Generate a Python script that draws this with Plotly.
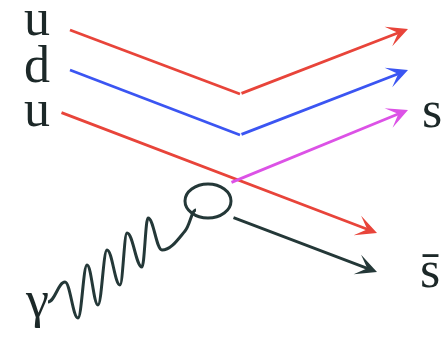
import math
import plotly.graph_objects as go

W, H = 442, 337

# quark lines: polyline vertices, the last segment ends in an arrow
red = "#e8443a"
blue = "#3b55f2"
magenta = "#dc52e6"
dark = "#243838"

uu_top_x = [70, 240, 408]
uu_top_y = [30, 94, 29]
dd_x = [70, 240, 408]
dd_y = [70, 135, 70]
u_low_x = [60, 377]
u_low_y = [112, 233]
s_x = [230, 408]
s_y = [183, 110]
sbar_x = [232, 377]
sbar_y = [217, 272]

# photon: wave vertices (start, alternating crests/troughs, then into the loop)
photon_x = [48, 65, 78, 87, 98, 107, 120, 127, 142, 148, 162, 185, 196]
photon_y = [302, 282, 318, 265, 305, 250, 285, 233, 267, 218, 250, 231, 210]

# quark-loop ellipse bounds
loop_x = [185, 231]
loop_y = [184, 218]

left_labels = ["u", "d", "u"]
left_label_x = [36.5, 36.5, 36.5]
left_label_y = [17.5, 64.5, 108.5]
right_labels = ["s", "s̄"]
right_label_x = [432, 430]
right_label_y = [109.5, 269.5]
photon_label = "γ"
photon_label_pos = (36.5, 299.5)


def wave_path(xs, ys, crest_ctrl=0.4):
    """SVG cubic path through the vertices; crests and troughs get level tangents."""
    pts = list(zip(xs, ys))
    n = len(pts)
    tangents = []
    for i in range(n):
        if 0 < i < n - 1:
            a, b, c = ys[i - 1], ys[i], ys[i + 1]
            extremum = (b - a) * (c - b) < 0
        else:
            extremum = True
        if extremum:
            tangents.append((1.0, 0.0, True))
        else:
            dx, dy = xs[i + 1] - xs[i - 1], ys[i + 1] - ys[i - 1]
            ln = math.hypot(dx, dy)
            tangents.append((dx / ln, dy / ln, False))
    d = f"M{pts[0][0]},{pts[0][1]}"
    for i in range(n - 1):
        p0, p1 = pts[i], pts[i + 1]
        seg_dx = p1[0] - p0[0]
        seg_len = math.hypot(seg_dx, p1[1] - p0[1])
        t0, t1 = tangents[i], tangents[i + 1]
        s0 = crest_ctrl * seg_dx if t0[2] else seg_len / 3
        s1 = crest_ctrl * seg_dx if t1[2] else seg_len / 3
        c0 = (p0[0] + t0[0] * s0, p0[1] + t0[1] * s0)
        c1 = (p1[0] - t1[0] * s1, p1[1] - t1[1] * s1)
        d += f" C{c0[0]:.2f},{c0[1]:.2f} {c1[0]:.2f},{c1[1]:.2f} {p1[0]},{p1[1]}"
    return d


fig = go.Figure()

lines = [
    (uu_top_x, uu_top_y, red),
    (dd_x, dd_y, blue),
    (u_low_x, u_low_y, red),
    (s_x, s_y, magenta),
    (sbar_x, sbar_y, dark),
]

annotations = []
for xs, ys, col in lines:
    if len(xs) > 2:
        fig.add_trace(go.Scatter(x=xs[:-1], y=ys[:-1], mode="lines",
                                 line=dict(color=col, width=2.8),
                                 hoverinfo="skip", showlegend=False))
    annotations.append(dict(
        x=xs[-1], y=ys[-1], ax=xs[-2], ay=ys[-2],
        xref="x", yref="y", axref="x", ayref="y",
        showarrow=True, arrowhead=3, arrowsize=1.25, arrowwidth=2.8,
        arrowcolor=col, standoff=0, startstandoff=0, text=""))

fig.add_shape(type="path", xref="x", yref="y",
              path=wave_path(photon_x, photon_y),
              line=dict(color=dark, width=3))

fig.add_shape(type="circle", xref="x", yref="y",
              x0=loop_x[0], x1=loop_x[1], y0=loop_y[0], y1=loop_y[1],
              line=dict(color=dark, width=3))

font = dict(family="Liberation Serif, Times New Roman, serif", size=52, color="#1c2828")
for t, x, y in zip(left_labels, left_label_x, left_label_y):
    annotations.append(dict(x=x, y=y, xref="x", yref="y", text=t, showarrow=False,
                            font=font, xanchor="center", yanchor="middle"))
for t, x, y in zip(right_labels, right_label_x, right_label_y):
    annotations.append(dict(x=x, y=y, xref="x", yref="y", text=t, showarrow=False,
                            font=font, xanchor="center", yanchor="middle"))
annotations.append(dict(x=photon_label_pos[0], y=photon_label_pos[1], xref="x", yref="y",
                        text=photon_label, showarrow=False, font=font,
                        xanchor="center", yanchor="middle"))

fig.update_layout(
    width=W, height=H,
    margin=dict(l=0, r=0, t=0, b=0),
    paper_bgcolor="white", plot_bgcolor="white",
    xaxis=dict(range=[0, W], visible=False, fixedrange=True),
    yaxis=dict(range=[H, 0], visible=False, fixedrange=True),
    annotations=annotations,
    showlegend=False,
)

fig.write_html("out.html")
